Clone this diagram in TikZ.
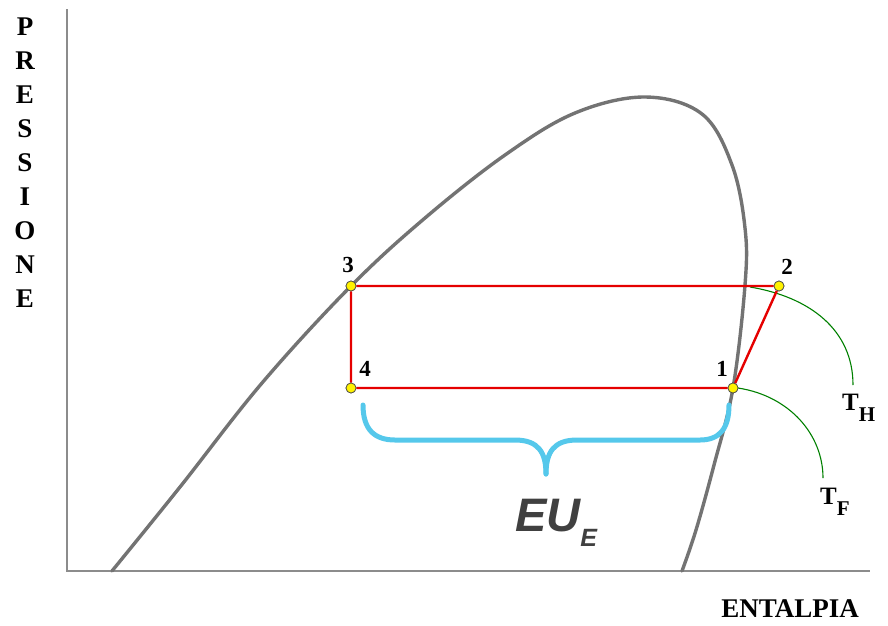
\documentclass[tikz,border=0pt]{standalone}
\usepackage{fontspec}
\setmainfont{Liberation Serif}
\newfontfamily\eufont{Liberation Sans}
\begin{document}
\begin{tikzpicture}[x=1pt,y=-1pt,
  axisline/.style={draw=black!45,line width=2.4pt},
  domeline/.style={draw=black!55,line width=3.4pt,line cap=round},
  cycleline/.style={draw=red!90!black,line width=2.4pt},
  isoline/.style={draw=green!50!black,line width=1.1pt},
  bracestyle/.style={draw={rgb,255:red,85;green,200;blue,235},line width=5pt,line cap=round},
  statept/.style={circle,draw=black!70,fill=yellow,line width=0.7pt,inner sep=0pt,minimum size=10pt},
  numlab/.style={font=\fontsize{23}{23}\selectfont\bfseries},
  axlab/.style={font=\fontsize{27}{27}\selectfont\bfseries}]
\useasboundingbox (0,0) rectangle (888,625);
% axes
\coordinate (O) at (67,571);
\coordinate (ytop) at (67,9);
\coordinate (xend) at (870,571);
\draw[axisline] (ytop) -- (O) -- (xend);
% dome
\draw[domeline] plot[smooth,tension=0.6] coordinates {(112,571) (180,487) (262,383) (351,286) (425,218) (505,155) (575,113) (645,97) (702,114) (732,165) (745,228) (745,285) (733,388) (714,465) (696,530) (682,571)};
% green isotherms
\coordinate (h0) at (750,287);
\coordinate (h1) at (853,385);
\coordinate (f0) at (738,388);
\coordinate (f1) at (823,478);
\draw[isoline] (h0) .. controls (810,297) and (853,330) .. (h1);
\draw[isoline] (f0) .. controls (790,396) and (823,435) .. (f1);
% cycle
\node[statept] (p3) at (351,286) {};
\node[statept] (p2) at (779,286) {};
\node[statept] (p1) at (733,388) {};
\node[statept] (p4) at (351,388) {};
\draw[cycleline] (p3) -- (p2) -- (p1) -- (p4) -- (p3);
\node[statept] at (p3) {};
\node[statept] at (p2) {};
\node[statept] at (p1) {};
\node[statept] at (p4) {};
% numbers
\node[numlab] (n3) at (348,265) {3};
\node[numlab] (n2) at (787,267) {2};
\node[numlab] (n1) at (722,369) {1};
\node[numlab] (n4) at (365,369) {4};
% brace
\draw[bracestyle] (363,405) .. controls (363,430) and (375,440) .. (395,440) -- (515,440) .. controls (538,440) and (546,452) .. (546,474);
\draw[bracestyle] (546,474) .. controls (546,452) and (554,440) .. (577,440) -- (700,440) .. controls (720,440) and (729,428) .. (729,405);
% labels
\node[font=\fontsize{25}{25}\selectfont\bfseries,anchor=west,inner sep=0pt] (TH) at (842,408) {T\raisebox{-11pt}{\fontsize{21}{21}\selectfont H}};
\node[font=\fontsize{25}{25}\selectfont\bfseries,anchor=west,inner sep=0pt] (TF) at (820,502) {T\raisebox{-11pt}{\fontsize{21}{21}\selectfont F}};
\node[font=\eufont\fontsize{47}{47}\selectfont\bfseries\itshape,text=black!75,anchor=west,inner sep=0pt] (EU) at (515,523) {EU\raisebox{-15pt}{\fontsize{25}{25}\selectfont E}};
\node[axlab] (ent) at (790,609) {ENTALPIA};
\node[axlab,align=center,inner sep=0pt] (pre) at (25,163) {P\\[7pt]R\\[7pt]E\\[7pt]S\\[7pt]S\\[7pt]I\\[7pt]O\\[7pt]N\\[7pt]E};
\end{tikzpicture}
\end{document}
